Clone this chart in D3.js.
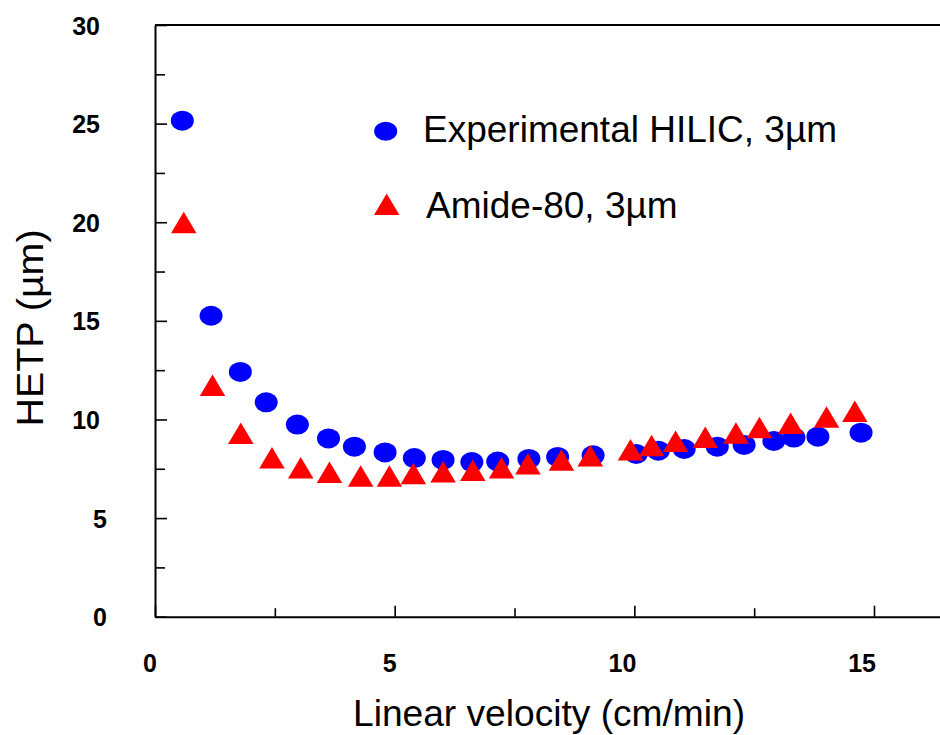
<!DOCTYPE html>
<html>
<head>
<meta charset="utf-8">
<script src="https://cdn.jsdelivr.net/npm/d3@7/dist/d3.min.js"></script>
<style>
  html, body { margin: 0; padding: 0; background: #fff; }
  svg { display: block; font-family: "Liberation Sans", Arial, Helvetica, sans-serif; }
</style>
</head>
<body>
<svg id="chart" width="940" height="735"></svg>
<script>
// Linear velocity (cm/min) and plate height HETP (µm) for the two columns
const hilicVelocity = [0.57, 1.17, 1.78, 2.32, 2.97, 3.62, 4.16, 4.80, 5.41, 6.01, 6.61, 7.15,
                       7.80, 8.40, 9.14, 10.04, 10.50, 11.04, 11.73, 12.29, 12.91, 13.33, 13.83, 14.73];
const hilicHetp     = [25.15, 15.26, 12.41, 10.87, 9.74, 9.04, 8.62, 8.33, 8.04, 7.95, 7.84, 7.87,
                       8.00, 8.10, 8.18, 8.25, 8.42, 8.50, 8.62, 8.71, 8.91, 9.08, 9.13, 9.33];

const amideVelocity = [0.60, 1.20, 1.79, 2.44, 3.04, 3.64, 4.29, 4.89, 5.39, 6.01, 6.63, 7.23,
                       7.78, 8.48, 9.08, 9.92, 10.36, 10.86, 11.48, 12.12, 12.61, 13.26, 14.01, 14.60];
const amideHetp     = [19.99, 11.74, 9.30, 8.06, 7.55, 7.33, 7.14, 7.14, 7.26, 7.35, 7.43, 7.55,
                       7.76, 7.95, 8.16, 8.46, 8.68, 8.90, 9.10, 9.31, 9.59, 9.81, 10.12, 10.42];

const seriesNames = ["Experimental HILIC, 3µm", "Amide-80, 3µm"];
const xMajorTicks = [0, 5, 10, 15];
const xMinorTicks = [2.5, 7.5, 12.5, 17.5];
const yMajorTicks = [0, 5, 10, 15, 20, 25, 30];
const yMinorTicks = [2.5, 7.5, 12.5, 17.5, 22.5, 27.5];

const svg = d3.select("#chart");

// Plot frame: left edge 155, bottom 616.7, top 25; the frame runs past the right edge
const plotLeft = 155, plotBottom = 616.7, plotTop = 25;
const pxPerUnitX = 719 / 15;
const x = d3.scaleLinear().domain([0, 17.5]).range([plotLeft, plotLeft + 17.5 * pxPerUnitX]);
const y = d3.scaleLinear().domain([0, 30]).range([plotBottom, plotTop]);

// top frame line
svg.append("line")
  .attr("x1", x(0)).attr("x2", x(17.5))
  .attr("y1", y(30)).attr("y2", y(30))
  .attr("stroke", "#000").attr("stroke-width", 2);

// X axis (ticks point inward)
const gx = svg.append("g").attr("transform", `translate(0,${plotBottom})`)
  .call(d3.axisBottom(x).tickValues(xMajorTicks).tickSizeInner(-11).tickSizeOuter(0).tickFormat(d3.format("d")));
svg.append("g").attr("transform", `translate(0,${plotBottom})`)
  .call(d3.axisBottom(x).tickValues(xMinorTicks).tickSizeInner(-8.5).tickSizeOuter(0).tickFormat(""))
  .select(".domain").remove();

// Y axis (ticks point inward)
const gy = svg.append("g").attr("transform", `translate(${plotLeft},0)`)
  .call(d3.axisLeft(y).tickValues(yMajorTicks).tickSizeInner(-12).tickSizeOuter(0).tickFormat(d3.format("d")));
svg.append("g").attr("transform", `translate(${plotLeft},0)`)
  .call(d3.axisLeft(y).tickValues(yMinorTicks).tickSizeInner(-10).tickSizeOuter(0).tickFormat(""))
  .select(".domain").remove();

svg.selectAll(".domain").attr("stroke", "#000").attr("stroke-width", 2);
svg.selectAll(".tick line").attr("stroke", "#000").attr("stroke-width", 1.6);

gx.selectAll(".tick text")
  .attr("font-family", "'Liberation Sans', Arial, sans-serif")
  .attr("font-size", 25).attr("font-weight", "bold").attr("fill", "#000")
  .attr("text-anchor", "end").attr("dx", 1.5)
  .attr("y", 55.5).attr("dy", 0);

gy.selectAll(".tick text")
  .attr("font-family", "'Liberation Sans', Arial, sans-serif")
  .attr("font-size", 25).attr("font-weight", "bold").attr("fill", "#000")
  .attr("text-anchor", "end")
  .attr("x", d => (String(d).length > 1 ? -55 : -48))
  .attr("dy", "0.36em");

// Axis titles
svg.append("text")
  .attr("x", 353).attr("y", 726)
  .attr("font-size", 37).attr("fill", "#000")
  .attr("textLength", 392).attr("lengthAdjust", "spacingAndGlyphs")
  .text("Linear velocity (cm/min)");

svg.append("text")
  .attr("transform", "translate(43,328) rotate(-90)")
  .attr("text-anchor", "middle")
  .attr("font-size", 36).attr("fill", "#000")
  .attr("textLength", 197).attr("lengthAdjust", "spacingAndGlyphs")
  .text("HETP (µm)");

// Triangle marker centred on its bounding box
const triW = 25.5, triH = 21.5;
const boxTriangle = {
  draw(ctx) {
    ctx.moveTo(0, -triH / 2);
    ctx.lineTo(triW / 2, triH / 2);
    ctx.lineTo(-triW / 2, triH / 2);
    ctx.closePath();
  }
};
const triPath = d3.symbol().type(boxTriangle)();

// HILIC series: blue dots
svg.append("g").selectAll("ellipse")
  .data(d3.zip(hilicVelocity, hilicHetp))
  .join("ellipse")
  .attr("cx", d => x(d[0])).attr("cy", d => y(d[1]))
  .attr("rx", 11.5).attr("ry", 10)
  .attr("fill", "#0000ff");

// Amide-80 series: red triangles
svg.append("g").selectAll("path")
  .data(d3.zip(amideVelocity, amideHetp))
  .join("path")
  .attr("d", triPath)
  .attr("transform", d => `translate(${x(d[0])},${y(d[1])})`)
  .attr("fill", "#ff0000");

// Legend
const legend = svg.append("g");
legend.append("ellipse")
  .attr("cx", 385.7).attr("cy", 131.2).attr("rx", 11.5).attr("ry", 9.5)
  .attr("fill", "#0000ff");
legend.append("path")
  .attr("d", triPath)
  .attr("transform", "translate(386.7,204.2)")
  .attr("fill", "#ff0000");
legend.append("text")
  .attr("x", 423).attr("y", 142.3)
  .attr("font-size", 37).attr("fill", "#000")
  .text(seriesNames[0]);
legend.append("text")
  .attr("x", 426).attr("y", 218.3)
  .attr("font-size", 37).attr("fill", "#000")
  .text(seriesNames[1]);
</script>
</body>
</html>
